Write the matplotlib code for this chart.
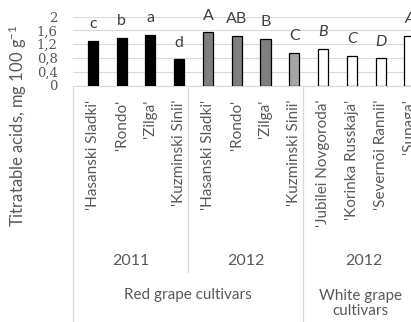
import matplotlib
matplotlib.use("Agg")
import matplotlib.pyplot as plt
from matplotlib.transforms import blended_transform_factory
from matplotlib.lines import Line2D

cultivars = ["'Hasanski Sladki'", "'Rondo'", "'Zilga'", "'Kuzminski Sinii'",
             "'Hasanski Sladki'", "'Rondo'", "'Zilga'", "'Kuzminski Sinii'",
             "'Jubilei Novgoroda'", "'Korinka Russkaja'", "'Severnõi Rannii'", "'Supaga'"]
acids = [1.30, 1.39, 1.47, 0.76, 1.54, 1.43, 1.35, 0.95, 1.06, 0.86, 0.79, 1.43]
letters = ['c', 'b', 'a', 'd', 'A', 'AB', 'B', 'C', 'B', 'C', 'D', 'A']
years = ['2011', '2012', '2012']
groups = ['Red grape cultivars', 'White grape\ncultivars']
yticks = [0, 0.4, 0.8, 1.2, 1.6, 2]
ytick_labels = ['0', '0,4', '0,8', '1,2', '1,6', '2']

fills = ['#000000'] * 4 + ['#7f7f7f'] * 3 + ['#a6a6a6'] + ['#ffffff'] * 4
italic = [False] * 8 + [True] * 4

W, H = 411, 322
fig = plt.figure(figsize=(W / 100, H / 100), dpi=100)
plt.rcParams['mathtext.default'] = 'regular'
sans = ['Lato', 'DejaVu Sans']
txt = '#595959'
grid = '#d9d9d9'

x0, x1 = -0.69, 11.7
px_per_cat = 28.77
ax = fig.add_axes([73 / W, 1 - 85.5 / H, (x1 - x0) * px_per_cat / W, 69 / H])
ax.set_xlim(x0, x1)
ax.set_ylim(0, 2)

xs = list(range(len(acids)))
ax.bar(xs, acids, width=0.35, color=fills, edgecolor='black', linewidth=0.9, zorder=3)

for x, v, lab, it in zip(xs, acids, letters, italic):
    ax.annotate(lab, (x, v), xytext=(0, 12), textcoords='offset points',
                ha='center', va='center', fontsize=11.5, color='#404040',
                family=sans, style='italic' if it else 'normal')

ax.set_yticks(yticks)
ax.set_yticklabels(ytick_labels, family=['DejaVu Serif'], fontsize=9.5, color=txt)
ax.tick_params(axis='y', length=0, pad=11)
ax.yaxis.grid(True, color=grid, linewidth=0.8, zorder=0)
ax.set_axisbelow(True)
for s in ['top', 'right', 'left']:
    ax.spines[s].set_visible(False)
ax.spines['bottom'].set_color(grid)
ax.spines['bottom'].set_linewidth(0.8)

ax.set_xticks(xs)
ax.set_xticklabels(cultivars, rotation=90, va='top', ha='center',
                   family=sans, fontsize=11, color=txt)
ax.tick_params(axis='x', length=0, pad=10)

tr = blended_transform_factory(ax.transData, fig.transFigure)

def fy(py):
    return 1 - py / H

# category separators
for xv, ybot in [(-0.69, 330), (3.31, 272), (7.31, 330), (11.31, 330)]:
    fig.add_artist(Line2D([xv, xv], [fy(85.5), fy(ybot)], transform=tr,
                          color=grid, linewidth=0.9, clip_on=False))

for xc, yr in zip([1.31, 5.31, 9.41], years):
    ax.text(xc, fy(261), yr, transform=tr, ha='center', va='center',
            family=sans, fontsize=11.5, color=txt)

ax.text(3.31, fy(295), groups[0], transform=tr, ha='center', va='center',
        family=sans, fontsize=11, color=txt)
ax.text(9.31, fy(303.5), groups[1], transform=tr, ha='center', va='center',
        family=sans, fontsize=11, color=txt, linespacing=1.15)

fig.text(18 / W, fy(126), 'Titratable acids, mg 100 g$^{-1}$', rotation=90,
         ha='center', va='center', family=sans, fontsize=12, color=txt)

fig.savefig('out.png', dpi=100)
